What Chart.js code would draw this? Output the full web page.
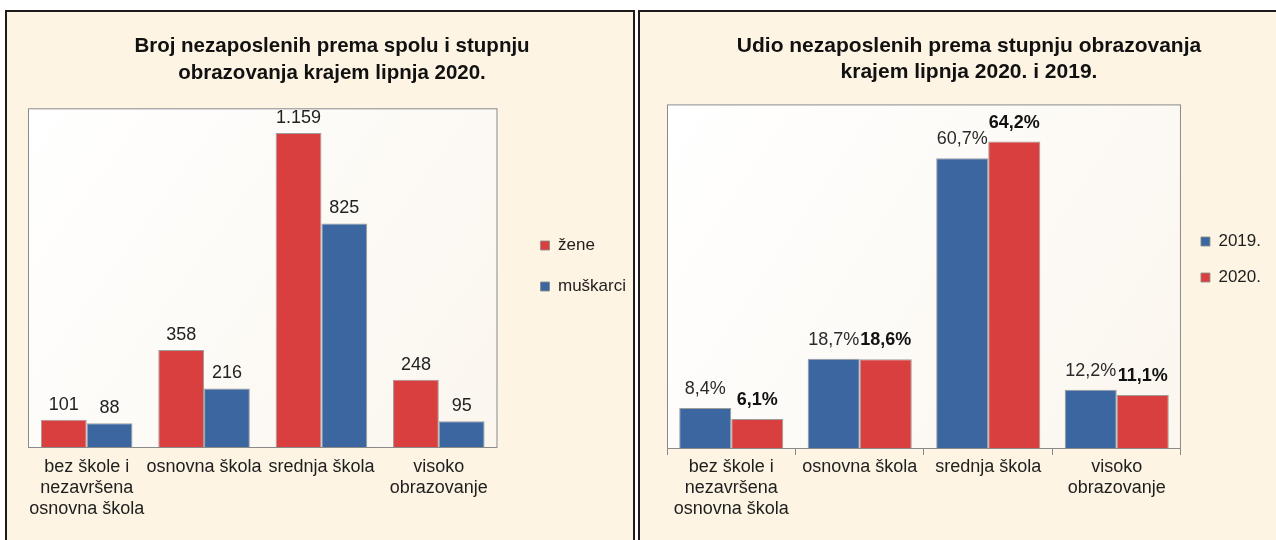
<!DOCTYPE html>
<html>
<head>
<meta charset="utf-8">
<script src="https://cdn.jsdelivr.net/npm/chart.js@4.4.1/dist/chart.umd.min.js"></script>
<style>
body { margin: 0; background: #fff; width: 1276px; height: 540px; overflow: hidden; position: relative; }
.panel { position: absolute; top: 10px; height: 545px; background: #fdf4e3; border: 2px solid #1c1c1c; box-sizing: border-box; }
#p1 { left: 5px; width: 630px; }
#p2 { left: 638px; width: 642px; }
canvas { display: block; }
</style>
</head>
<body>
<div class="panel" id="p1"><canvas id="c1" width="626" height="528"></canvas></div>
<div class="panel" id="p2"><canvas id="c2" width="636" height="528"></canvas></div>
<script>
// data
const categories = [['bez škole i', 'nezavršena', 'osnovna škola'], 'osnovna škola', 'srednja škola', ['visoko', 'obrazovanje']];
const zene = [101, 358, 1159, 248];
const muskarci = [88, 216, 825, 95];
const udio2019 = [8.4, 18.7, 60.7, 12.2];
const udio2020 = [6.1, 18.6, 64.2, 11.1];

const RED = '#d93f3f';
const BLUE = '#3c66a0';
const FONT = '"Liberation Sans", Arial, sans-serif';

function thousands(v) {
    return String(v).replace(/\B(?=(\d{3})+(?!\d))/g, '.');
}
function pct(v) {
    return v.toFixed(1).replace('.', ',') + '%';
}

// white plot box with grey frame
const plotBox = {
    id: 'plotBox',
    beforeDatasetsDraw(chart) {
        const {ctx, chartArea: a} = chart;
        ctx.save();
        let g = ctx.createLinearGradient(a.left, a.top, a.right, a.bottom);
        g.addColorStop(0, '#ffffff');
        g.addColorStop(1, '#fbf6ee');
        ctx.fillStyle = g;
        ctx.fillRect(a.left, a.top, a.right - a.left, a.bottom - a.top);
        ctx.strokeStyle = '#8a8a8a';
        ctx.lineWidth = 1;
        ctx.strokeRect(a.left + 0.5, a.top + 0.5, a.right - a.left - 1, a.bottom - a.top);
        ctx.restore();
    }
};

// value labels above bars
const valueLabels = {
    id: 'valueLabels',
    afterDatasetsDraw(chart) {
        const {ctx} = chart;
        chart.data.datasets.forEach((ds, i) => {
            const meta = chart.getDatasetMeta(i);
            ctx.save();
            ctx.font = ds.labelFont;
            ctx.fillStyle = ds.labelColor;
            ctx.textAlign = 'center';
            ctx.textBaseline = 'alphabetic';
            meta.data.forEach((bar, j) => {
                ctx.fillText(ds.format(ds.data[j]), bar.x, bar.y - ds.labelGap);
            });
            ctx.restore();
        });
    }
};

function makeChart(id, cfg) {
    return new Chart(document.getElementById(id), {
        type: 'bar',
        data: {
            labels: categories,
            datasets: cfg.datasets
        },
        options: {
            responsive: false,
            animation: false,
            layout: { padding: cfg.padding },
            datasets: {
                bar: {
                    categoryPercentage: cfg.catPct,
                    barPercentage: 1,
                    borderWidth: 1,
                    borderColor: 'rgba(140,140,140,0.85)',
                    borderSkipped: 'bottom'
                }
            },
            scales: {
                x: {
                    grid: cfg.xGrid,
                    border: { display: false },
                    ticks: {
                        color: '#1e1e1e',
                        font: { family: FONT, size: 18, lineHeight: 1.15 },
                        padding: cfg.tickPad,
                        maxRotation: 0,
                        autoSkip: false
                    },
                    afterFit(scale) { scale.height = cfg.axisHeight; }
                },
                y: {
                    position: 'right',
                    min: 0,
                    max: cfg.yMax,
                    grid: { display: false },
                    border: { display: false },
                    ticks: { display: false },
                    afterFit(scale) { scale.width = cfg.legendGap; }
                }
            },
            plugins: {
                title: {
                    display: true,
                    text: cfg.title,
                    color: '#111',
                    font: { family: FONT, size: cfg.titleSize, weight: 'bold', lineHeight: cfg.titleLH },
                    padding: cfg.titlePad
                },
                legend: {
                    position: 'right',
                    labels: {
                        boxWidth: 9,
                        boxHeight: 9,
                        padding: cfg.legendPad,
                        color: '#1e1e1e',
                        font: { family: FONT, size: 17 }
                    }
                },
                tooltip: { enabled: false }
            }
        },
        plugins: [plotBox, valueLabels]
    });
}

makeChart('c1', {
    title: ['Broj nezaposlenih prema spolu i stupnju', 'obrazovanja krajem lipnja 2020.'],
    titleSize: 20.5,
    titleLH: 1.3,
    titlePad: { top: 21, bottom: 22 },
    padding: { left: 21, right: -3, top: 0, bottom: 20 },
    catPct: 0.78,
    yMax: 1250,
    legendPad: 24,
    legendGap: 19,
    tickPad: 2,
    axisHeight: 73,
    xGrid: { display: false },
    datasets: [
        { label: 'žene', data: zene, backgroundColor: RED, labelFont: '18px ' + FONT, labelColor: '#222', labelGap: 10, format: thousands },
        { label: 'muškarci', data: muskarci, backgroundColor: BLUE, labelFont: '18px ' + FONT, labelColor: '#222', labelGap: 10, format: thousands }
    ]
});

makeChart('c2', {
    title: ['Udio nezaposlenih prema stupnju obrazovanja', 'krajem lipnja 2020. i 2019.'],
    titleSize: 21,
    titleLH: 1.2,
    titlePad: { top: 35, bottom: 20 },
    padding: { left: 27, right: 5, top: -13, bottom: 20 },
    catPct: 0.81,
    yMax: 72,
    legendPad: 19,
    legendGap: 1,
    tickPad: 2,
    axisHeight: 72,
    xGrid: { display: true, drawOnChartArea: false, drawTicks: true, tickLength: 7, color: '#8a8a8a', offset: true },
    datasets: [
        { label: '2019.', data: udio2019, backgroundColor: BLUE, labelFont: '18px ' + FONT, labelColor: '#2a2a2a', labelGap: 14, format: pct },
        { label: '2020.', data: udio2020, backgroundColor: RED, labelFont: 'bold 18px ' + FONT, labelColor: '#111', labelGap: 14, format: pct }
    ]
});
</script>
</body>
</html>
